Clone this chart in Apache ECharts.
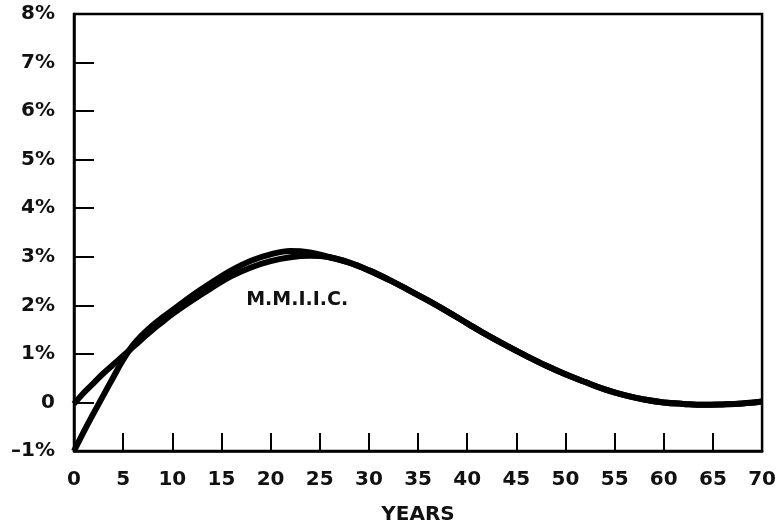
<!DOCTYPE html>
<html>
<head>
<meta charset="utf-8">
<script src="https://cdn.jsdelivr.net/npm/echarts@6/dist/echarts.min.js"></script>
<style>html,body{margin:0;padding:0;background:#fff;}#c{width:779px;height:530px;}</style>
</head>
<body>
<div id="c"></div>
<script>
// Years (x) and values in percent (y)
const yearsA = [0,1,2,3,4,5,6,7,8,9,10,12,14,16,18,20,22,24,26,28,30,32,34,36,38,40,42,44,46,48,50,52,54,56,58,60,62,64,66,68,70];
const valuesA = [-0.03,0.2,0.4,0.6,0.78,0.96,1.14,1.32,1.5,1.66,1.82,2.1,2.36,2.6,2.78,2.91,2.99,3.02,2.99,2.88,2.72,2.53,2.32,2.1,1.87,1.63,1.39,1.17,0.96,0.76,0.58,0.42,0.27,0.15,0.06,0.0,-0.03,-0.05,-0.04,-0.02,0.02];
const yearsB = [0,1,2,3,4,5,6,7,8,9,10,12,14,16,18,20,22,24,26,28,30,32,34,36,38,40,42,44,46,48,50,52,54,56,58,60,62,64,66,68,70];
const valuesB = [-1.0,-0.6,-0.22,0.15,0.52,0.88,1.18,1.4,1.59,1.75,1.9,2.2,2.47,2.72,2.92,3.05,3.12,3.09,2.99,2.88,2.72,2.53,2.32,2.1,1.87,1.63,1.39,1.17,0.96,0.76,0.58,0.42,0.27,0.15,0.06,0.0,-0.03,-0.05,-0.04,-0.02,0.02];
const xTickLabels = ['0','5','10','15','20','25','30','35','40','45','50','55','60','65','70'];
const yTickLabels = {'-1':'–1%','0':'0','1':'1%','2':'2%','3':'3%','4':'4%','5':'5%','6':'6%','7':'7%','8':'8%'};
const curveLabel = 'M.M.I.I.C.';
const curveLabelAt = [22.7, 2.1];

const FONT = 'DejaVu Sans';
const chart = echarts.init(document.getElementById('c'), null, {renderer:'canvas'});
const lineStyle = {color:'#000', width:6};
chart.setOption({
  animation:false,
  backgroundColor:'#fff',
  grid:{left:74, right:14, top:14, bottom:79, show:true, borderColor:'#000', borderWidth:2.5, backgroundColor:'transparent'},
  xAxis:{
    type:'value', min:0, max:70, interval:5,
    axisLine:{show:true, onZero:false, lineStyle:{color:'#000', width:2.5}},
    axisTick:{show:true, inside:true, length:18, lineStyle:{color:'#000', width:2}},
    splitLine:{show:false},
    axisLabel:{margin:19, color:'#111', fontFamily:FONT, fontWeight:'bold', fontSize:20,
      formatter:function(v){return xTickLabels[Math.round(v/5)];}},
    name:'YEARS', nameLocation:'middle', nameGap:54,
    nameTextStyle:{color:'#111', fontFamily:FONT, fontWeight:'bold', fontSize:20}
  },
  yAxis:{
    type:'value', min:-1, max:8, interval:1,
    axisLine:{show:true, onZero:false, lineStyle:{color:'#000', width:2.5}},
    axisTick:{show:true, inside:true, length:20, lineStyle:{color:'#000', width:2}},
    splitLine:{show:false},
    axisLabel:{margin:19, color:'#111', fontFamily:FONT, fontWeight:'bold', fontSize:20,
      formatter:function(v){return yTickLabels[String(Math.round(v))];}}
  },
  series:[
    {type:'line', data:yearsA.map((x,i)=>[x,valuesA[i]]), smooth:0.4, showSymbol:false, lineStyle:lineStyle,
      markPoint:{symbol:'circle', symbolSize:0, data:[{coord:curveLabelAt}],
        label:{show:true, formatter:curveLabel, position:'inside', color:'#111', fontFamily:FONT, fontWeight:'bold', fontSize:19}}},
    {type:'line', data:yearsB.map((x,i)=>[x,valuesB[i]]), smooth:0.4, showSymbol:false, lineStyle:lineStyle}
  ]
});
</script>
</body>
</html>
